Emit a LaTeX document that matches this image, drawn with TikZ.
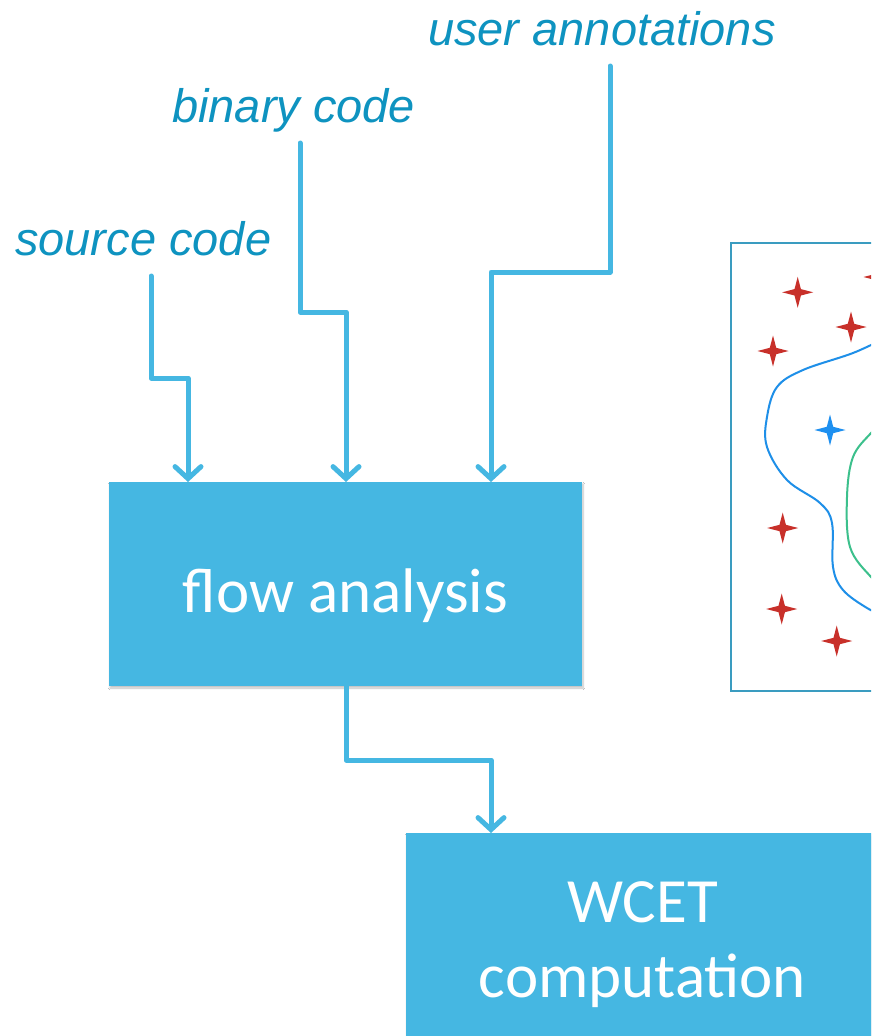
\documentclass[tikz,border=0pt]{standalone}
\usepackage{fontspec}
\setmainfont{Carlito}
\newfontfamily\labelfont{Liberation Sans}
\usetikzlibrary{arrows.meta,shadows.blur}
\definecolor{boxblue}{HTML}{45B7E2}
\definecolor{labelblue}{HTML}{0E93C0}
\definecolor{frameblue}{HTML}{3A9CC0}
\definecolor{starred}{HTML}{C8302A}
\definecolor{starblue}{HTML}{1E90F0}
\definecolor{curveblue}{HTML}{1E8FE8}
\definecolor{curvegreen}{HTML}{3CC08C}
\tikzset{
  procbox/.style={fill=boxblue, minimum width=473pt, minimum height=204pt, inner sep=0pt,
    text=white, font=\fontsize{63}{75}\selectfont, align=center,
    blur shadow={shadow blur steps=6, shadow xshift=1pt, shadow yshift=-2pt, shadow opacity=25}},
  inlabel/.style={text=labelblue, font=\labelfont\itshape\fontsize{47}{56}\selectfont, inner sep=0pt, anchor=base west},
  flowline/.style={draw=boxblue, line width=5pt, line join=round, line cap=round,
    -{Straight Barb[length=12pt,width=26pt,line cap=round]}},
  star4/.pic={\fill (0,-15.5) -- (3.2,-3.2) -- (15.5,0) -- (3.2,3.2) -- (0,15.5) -- (-3.2,3.2) -- (-15.5,0) -- (-3.2,-3.2) -- cycle;}
}
\begin{document}
\begin{tikzpicture}[x=1pt,y=-1pt]
\clip (0,0) rectangle (871,1036);
\fill[white] (0,0) rectangle (871,1036);

% labels
\node[inlabel] (src) at (15,255) {source code};
\node[inlabel] (bin) at (172,122) {binary code};
\node[inlabel] (usr) at (428,45) {user annotations};

% boxes
\node[procbox, text height=67pt] (flow) at (345.5,584) {flow analysis};
\node[procbox, text height=136pt] (wcet) at (642.5,935) {WCET\\computation};

% connector start points
\coordinate (s0) at (151,276);
\coordinate (b0) at (300,143);
\coordinate (u0) at (610,66);

\draw[flowline] (s0) -- (151,378) -- (188,378) -- (188,482);
\draw[flowline] (b0) -- (300,312) -- (346,312) -- (346,482);
\draw[flowline] (u0) -- (610,272) -- (491,272) -- (491,482);
\draw[flowline] (flow.south -| 346,0) -- (346,760) -- (491,760) -- (491,833);

% right panel
\draw[frameblue, line width=2.5pt] (731,243) rectangle (900,691);
\draw[curveblue, line width=2pt] plot[smooth, tension=0.6] coordinates {
  (885,338) (853,353) (803,370) (777,387) (767,417) (767,447) (787,480)
  (820,503) (832,523) (833,567) (843,590) (867,608) (885,616)};
\draw[curvegreen, line width=2pt] plot[smooth, tension=0.6] coordinates {
  (885,420) (871,433) (853,457) (847,497) (850,547) (871,577) (885,588)};

\begin{scope}[starred]
  \pic at (797.7,292.3) {star4};
  \pic at (851,327) {star4};
  \pic at (773,351) {star4};
  \pic at (782.7,528) {star4};
  \pic at (781.7,609) {star4};
  \pic at (836.7,641) {star4};
  \pic at (879,277) {star4};
\end{scope}
\begin{scope}[starblue]
  \pic at (830,430) {star4};
\end{scope}
\end{tikzpicture}
\end{document}
